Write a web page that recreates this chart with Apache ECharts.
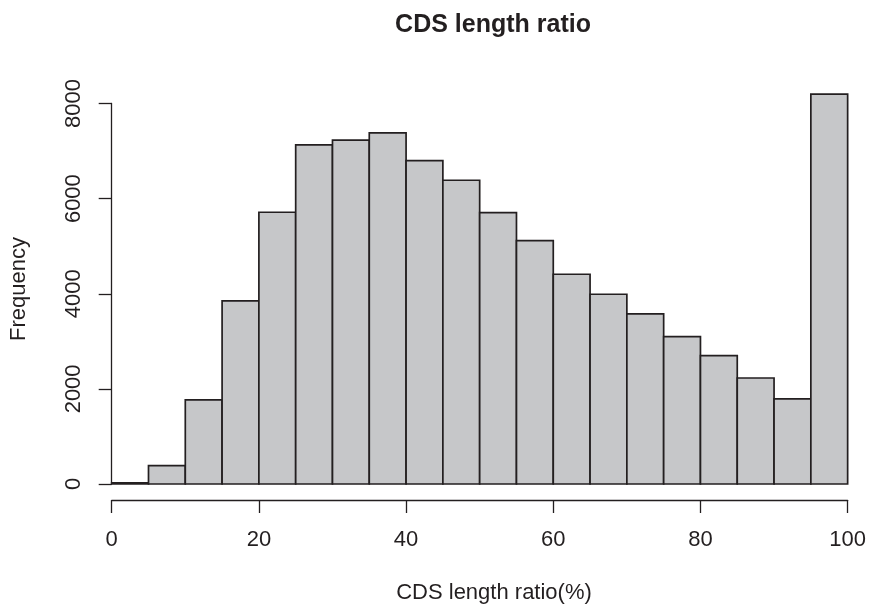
<!DOCTYPE html>
<html>
<head>
<meta charset="utf-8">
<script src="https://cdn.jsdelivr.net/npm/echarts@6/dist/echarts.min.js"></script>
<style>
html,body{margin:0;padding:0;background:#fff;}
#chart{width:869px;height:605px;}
</style>
</head>
<body>
<div id="chart"></div>
<script>
// Histogram bins (CDS length ratio %, bin width 5)
const binStarts = [0, 5, 10, 15, 20, 25, 30, 35, 40, 45, 50, 55, 60, 65, 70, 75, 80, 85, 90, 95];
const binWidth = 5;
const counts = [25, 385, 1767, 3849, 5714, 7129, 7228, 7382, 6800, 6386, 5706, 5117, 4410, 3989, 3575, 3098, 2698, 2229, 1788, 8196];
const xTicks = [0, 20, 40, 60, 80, 100];
const yTicks = [0, 2000, 4000, 6000, 8000];

const FONT = '"Liberation Sans", Arial, Helvetica, sans-serif';
const INK = '#231f20';

const data = binStarts.map((s, i) => [s, s + binWidth, counts[i]]);

const chart = echarts.init(document.getElementById('chart'), null, {renderer: 'canvas'});
chart.setOption({
  animation: false,
  backgroundColor: '#ffffff',
  grid: {left: 111.7, right: 19, top: 103.5, bottom: 121, containLabel: false},
  xAxis: {
    type: 'value',
    min: xTicks[0], max: xTicks[xTicks.length - 1], interval: 20,
    offset: 16,
    axisLine: {show: true, onZero: false, lineStyle: {color: INK, width: 1.3}},
    axisTick: {show: true, length: 13, lineStyle: {color: INK, width: 1.3}},
    axisLabel: {show: true, margin: 29, fontSize: 22, color: INK, fontFamily: FONT,
      showMinLabel: true, showMaxLabel: true, formatter: v => String(v)},
    splitLine: {show: false}
  },
  yAxis: {
    type: 'value',
    min: yTicks[0], max: yTicks[yTicks.length - 1], interval: 2000,
    axisLine: {show: true, onZero: false, lineStyle: {color: INK, width: 1.3}},
    axisTick: {show: true, length: 13, lineStyle: {color: INK, width: 1.3}},
    axisLabel: {show: true, margin: 27, rotate: 90, fontSize: 22, color: INK, fontFamily: FONT,
      showMinLabel: true, showMaxLabel: true, formatter: v => String(v)},
    splitLine: {show: false}
  },
  series: [{
    type: 'custom',
    clip: false,
    data: data,
    encode: {x: [0, 1], y: 2},
    renderItem: function (params, api) {
      const p0 = api.coord([api.value(0), 0]);
      const p1 = api.coord([api.value(1), api.value(2)]);
      return {
        type: 'rect',
        shape: {x: p0[0], y: p1[1], width: p1[0] - p0[0], height: p0[1] - p1[1]},
        style: {fill: '#c6c7c9', stroke: INK, lineWidth: 1.7}
      };
    }
  }],
  graphic: [
    {type: 'text', x: 493, y: 25, style: {text: 'CDS length ratio', fill: INK, fontSize: 25, fontWeight: 'bold', fontFamily: FONT, align: 'center', verticalAlign: 'middle'}},
    {type: 'text', x: 494, y: 593, style: {text: 'CDS length ratio(%)', fill: INK, fontSize: 22, fontFamily: FONT, align: 'center', verticalAlign: 'middle'}},
    {type: 'text', x: 19, y: 289, rotation: Math.PI / 2, style: {text: 'Frequency', fill: INK, fontSize: 22, fontFamily: FONT, align: 'center', verticalAlign: 'middle'}}
  ]
});
</script>
</body>
</html>
